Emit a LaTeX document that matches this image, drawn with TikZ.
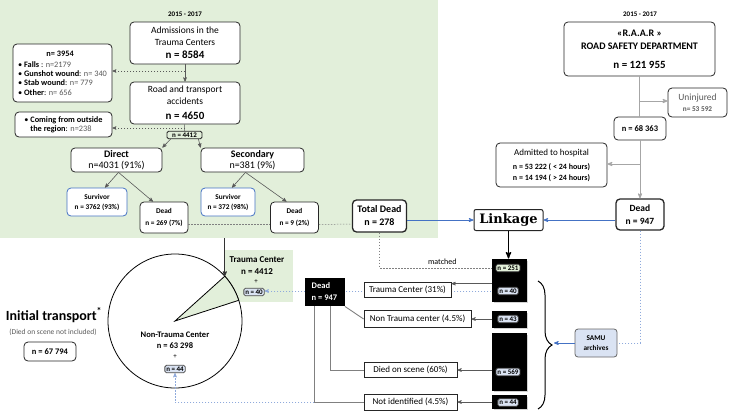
\documentclass[tikz,border=0pt]{standalone}
\usepackage{fontspec}
\setmainfont{Carlito}
\newfontfamily\linkfont{DejaVu Serif}
\usetikzlibrary{arrows,positioning,calc,shadows,backgrounds,decorations.pathreplacing}
\definecolor{bggreen}{RGB}{226,239,218}
\definecolor{tagblue}{RGB}{218,227,243}
\definecolor{taggreen}{RGB}{226,240,217}
\definecolor{arrblue}{RGB}{68,114,196}
\definecolor{dshblue}{RGB}{143,170,220}
\definecolor{lgray}{RGB}{166,166,166}
\definecolor{dgray}{RGB}{89,89,89}
\newcommand{\fsz}[2]{\fontsize{#1}{#2}\selectfont}

\begin{document}
\begin{tikzpicture}[x=1pt, y=-1pt, >=stealth', thick,
  box/.style={draw=black!85, fill=white, rounded corners=4pt, align=center, inner sep=1pt},
  res/.style={draw=black!85, fill=white, inner sep=1pt, font=\fsz{9}{10}},
  blk/.style={fill=black, draw=black, minimum width=34pt, inner sep=0pt, drop shadow={opacity=0.35, shadow xshift=1.5pt, shadow yshift=-1.5pt}},
  tag/.style={draw=black!70, fill=tagblue, rounded corners=1.5pt, inner sep=1.4pt, font=\bfseries\fsz{7}{8}},
  yr/.style={font=\bfseries\fsz{7}{8}},
  gar/.style={->, draw=dgray, line width=0.6pt},
  gln/.style={draw=gray, line width=0.9pt},
  lgar/.style={->, draw=lgray, line width=0.8pt},
  dar/.style={->, draw=dgray, line width=0.5pt, dash pattern=on 1.5pt off 1.5pt},
  dln/.style={draw=gray, line width=0.5pt, dash pattern=on 1.5pt off 1.5pt},
  bar/.style={->, draw=arrblue, line width=0.7pt},
  dbl/.style={draw=dshblue, line width=0.6pt, dash pattern=on 1.5pt off 1.5pt}]
  \useasboundingbox (0,0) rectangle (730,418);
  \begin{scope}[on background layer]
    \fill[bggreen] (0,0) rectangle (438,238);
    \fill[bggreen] (224,250) rectangle (293,302);
    \coordinate (pc) at (175,321);
    \draw[fill=white, line width=0.8pt] (pc) circle[radius=67];
    \filldraw[fill=bggreen, draw=black, line width=0.8pt] (pc) -- ($(pc)+(-18:67)$) arc[start angle=-18, end angle=-42, radius=67] -- cycle;
  \end{scope}

  \node (yrl) [yr] at (185,14) {2015 - 2017};
  \node (adm) [box, minimum width=110pt, minimum height=42pt, font=\fsz{9.5}{11.5}] at (185,43) {Admissions in the\\Trauma Centers\\[2pt]{\bfseries\fsz{11}{13}n = 8584}};
  \node (oth) [box, minimum width=99pt, minimum height=58pt, align=left, font=\fsz{8.3}{9.3}] at (62.5,73) {\makebox[84pt]{\bfseries n= 3954}\\[2pt]\textbullet\ \textbf{Falls} : \textcolor{dgray}{n=2179}\\\textbullet\ \textbf{Gunshot wound}: \textcolor{dgray}{n= 340}\\\textbullet\ \textbf{Stab wound}: \textcolor{dgray}{n= 779}\\\textbullet\ \textbf{Other}: \textcolor{dgray}{n= 656}};
  \node (road) [box, minimum width=110pt, minimum height=42pt, font=\fsz{9.5}{11.5}] at (185,103) {Road and transport\\accidents\\[4pt]{\bfseries\fsz{11}{13}n = 4650}};
  \node (cfo) [box, minimum width=97pt, minimum height=25pt, align=left, font=\fsz{8.3}{9.3}] at (63.5,124.5) {\textbullet\ \textbf{Coming from outside}\\\phantom{\textbullet\ }\textbf{the region}: \textcolor{dgray}{n=238}};
  \node (t4412) [tag, fill=none, draw=black!85, line width=0.8pt, minimum width=35pt] at (184.5,135) {n = 4412};
  \node (dir) [box, minimum width=91pt, minimum height=24pt, font=\fsz{10}{11.5}] at (116.5,160) {\textbf{Direct}\\n=4031 (91\%)};
  \node (sec) [box, minimum width=103pt, minimum height=24pt, font=\fsz{10}{11.5}] at (252.5,160) {\textbf{Secondary}\\n=381 (9\%)};
  \node (sv1) [box, draw=arrblue, minimum width=60pt, minimum height=28pt, font=\bfseries\fsz{7.3}{10}] at (97,202) {Survivor\\n = 3762 (93\%)};
  \node (sv2) [box, draw=arrblue, minimum width=54pt, minimum height=28pt, font=\bfseries\fsz{7.3}{10}] at (228,202) {Survivor\\n = 372 (98\%)};
  \node (dd1) [box, minimum width=48pt, minimum height=31pt, font=\bfseries\fsz{7.3}{12}] at (164,217.5) {Dead\\n = 269 (7\%)};
  \node (dd2) [box, minimum width=48pt, minimum height=31pt, font=\bfseries\fsz{7.3}{12}] at (294.5,217.5) {Dead\\n = 9 (2\%)};
  \node (tot) [box, line width=1.3pt, minimum width=54pt, minimum height=32pt, font=\bfseries\fsz{10}{13}] at (379.5,216) {Total Dead\\n = 278};

  \node (yrr) [yr] at (640,14) {2015 - 2017};
  \node (raar) [box, minimum width=151pt, minimum height=54pt, font=\bfseries\fsz{10}{13.5}] at (639.5,49) {«R.A.A.R »\\ROAD SAFETY DEPARTMENT\\[5pt]{\fsz{11}{13}n = 121 955}};
  \node (unj) [box, minimum width=59pt, minimum height=29pt, text=dgray, font=\fsz{9.5}{10}] at (697.5,102.5) {Uninjured\\[1pt]{\bfseries\fsz{7.3}{8}n= 53 592}};
  \node (n68) [box, minimum width=52pt, minimum height=23pt, font=\bfseries\fsz{8.5}{10}] at (640,128.5) {n = 68 363};
  \node (adh) [box, minimum width=111pt, minimum height=44pt, font=\fsz{9}{11}] at (551.5,165) {Admitted to hospital\\[3pt]{\bfseries\fsz{8}{12}n = 53 222 ( < 24 hours)}\\{\bfseries\fsz{8}{12}n = 14 194 ( > 24 hours)}};
  \node (dr) [box, line width=1.3pt, minimum width=48pt, minimum height=31pt, font=\bfseries\fsz{9.5}{13}] at (640,214.5) {Dead\\n = 947};
  \node (lnk) [box, line width=1pt, rounded corners=2pt, minimum width=69pt, minimum height=21pt, font=\linkfont\bfseries\fsz{13}{14}] at (508.5,220) {Linkage};

  \node (c1) [blk, minimum height=42pt] at (509,280) {};
  \node (c2) [blk, minimum height=16pt] at (509,319) {};
  \node (c3) [blk, minimum height=57pt] at (509,361.5) {};
  \node (c4) [blk, minimum height=13pt] at (509,402) {};
  \node (g251) [tag, fill=taggreen] at (508,268) {n = 251};
  \node (t40b) [tag] at (508,291) {n = 40};
  \node (t43) [tag] at (508,319) {n = 43};
  \node (t569) [tag] at (508,372) {n = 569};
  \node (t44b) [tag] at (508,402.5) {n = 44};

  \node (dkd) [fill=black, text=white, minimum width=40pt, minimum height=28pt, align=left, font=\bfseries\fsz{8.5}{12}] at (324.5,292) {Dead\\n = 947};
  \node (rtc) [res, minimum width=87pt, minimum height=15pt] at (407.5,289.5) {Trauma Center (31\%)};
  \node (rnt) [res, minimum width=107pt, minimum height=17pt] at (417.5,319) {Non Trauma center (4.5\%)};
  \node (rds) [res, minimum width=93pt, minimum height=15pt] at (410.5,370) {Died on scene (60\%)};
  \node (rni) [res, minimum width=93pt, minimum height=16pt] at (410.5,402) {Not identified (4.5\%)};
  \node (samu) [box, fill=tagblue, draw=black!60, rounded corners=3pt, minimum width=42pt, minimum height=28pt, font=\bfseries\fsz{7.3}{10}] at (596,343) {SAMU\\archives};

  \node (tcl) [align=center, font=\bfseries\fsz{9}{11.5}] at (257,265.5) {Trauma Center\\n = 4412};
  \node (tplus) [font=\fsz{7}{8}] at (256,282) {+};
  \node (t40a) [tag] at (254,292) {n = 40};
  \node (ntc) [align=center, font=\bfseries\fsz{8.5}{11}] at (175,340.5) {Non-Trauma Center\\n = 63 298};
  \node (nplus) [font=\fsz{7}{8}] at (175,357) {+};
  \node (t44a) [tag] at (175,369) {n = 44};
  \node (it) [font=\bfseries\fsz{14}{16}] at (54,315) {Initial transport\textsuperscript{*}};
  \node (dsn) [font=\fsz{7.5}{8}, text=dgray] at (53,332) {(Died on scene not included)};
  \node (n67) [box, minimum width=52pt, minimum height=19pt, font=\bfseries\fsz{8.5}{10}] at (50,351.5) {n = 67 794};

  \coordinate (b1) at (185,71);
  \coordinate (b2) at (185,128);
  \coordinate (b3) at (640,101);
  \coordinate (b4) at (640,164);
  \coordinate (b5) at ($(rtc.north east)+(0,2)$);
  \coordinate (bt) at (554,343);
  \coordinate (wtop) at ($(pc)+(-42:67)$);
  \coordinate (gbot) at (wtop |- 0,238);

  \draw[gar] (adm) -- (road);
  \draw[dar] (b1) -- (b1 -| oth.east);
  \draw[gar, -] (road) -- (t4412);
  \draw[dar] (b2) -- (b2 -| cfo.east);
  \draw[gar] ($(t4412.south west)+(4,0)$) -- (dir.north east);
  \draw[gar] ($(t4412.south east)+(-4,0)$) -- (sec.north west);
  \draw[gar] ($(dir.south)+(2,0)$) -- ($(sv1.north)+(8,0)$);
  \draw[gar] ($(dir.south)+(2,0)$) -- ($(dd1.north)+(-11,0)$);
  \draw[gar] ($(sec.south)+(-7,0)$) -- ($(sv2.north)+(4,0)$);
  \draw[gar] ($(sec.south)+(-7,0)$) -- ($(dd2.north)+(-8,0)$);
  \draw[dln] ($(dd1.east)+(0,7)$) -- ($(dd2.west)+(0,7)$);
  \draw[dln] ($(dd2.east)+(0,7)$) -- ($(tot.west)+(0,8)$);
  \draw[bar] (tot.east |- lnk.west) -- (lnk.west);
  \draw[bar] (dr.west |- lnk.east) -- (lnk.east);

  \draw[draw=lgray, line width=0.8pt] (raar.south) -- (raar.south |- n68.north);
  \draw[lgar] (b3) -- (b3 -| unj.west);
  \draw[lgar] (n68) -- (dr);
  \draw[lgar] (b4) -- (b4 -| adh.east);
  \draw[dbl] (dr.south) |- (samu.east);
  \draw[bar] (samu.west) -- (bt);
  \draw[decorate, decoration={brace, amplitude=14pt}, line width=1pt] (538,281) -- (538,409);

  \draw[->, line width=1.3pt] (lnk.south) -- (lnk.south |- c1.north);
  \draw[dln] (tot.south) |- node[pos=0.78, above, font=\fsz{8}{9}] {matched} (c1.west |- g251);
  \draw[gar] (c1.west |- b5) -- (b5);
  \draw[gar] (c2.west |- rnt.east) -- (rnt.east);
  \draw[gar] (c3.west |- rds.east) -- (rds.east);
  \draw[gar] (c4.west |- rni.east) -- (rni.east);
  \draw[gln] (dkd.south east) -- (rnt.west);
  \draw[gln] ($(dkd.south)+(5.5,0)$) |- (rds.west);
  \draw[gln] ($(dkd.south)+(-10.5,0)$) |- (rni.west);
  \draw[gar, draw=black!80, line width=0.8pt] (gbot) -- (wtop);
  \begin{scope}[on background layer]
    \draw[dbl, ->, draw=dshblue] (t40b.west) -- (t40b.west -| t40a.east);
    \draw[dbl, ->] (t44b.west) -| (t44a.south);
  \end{scope}
\end{tikzpicture}
\end{document}
